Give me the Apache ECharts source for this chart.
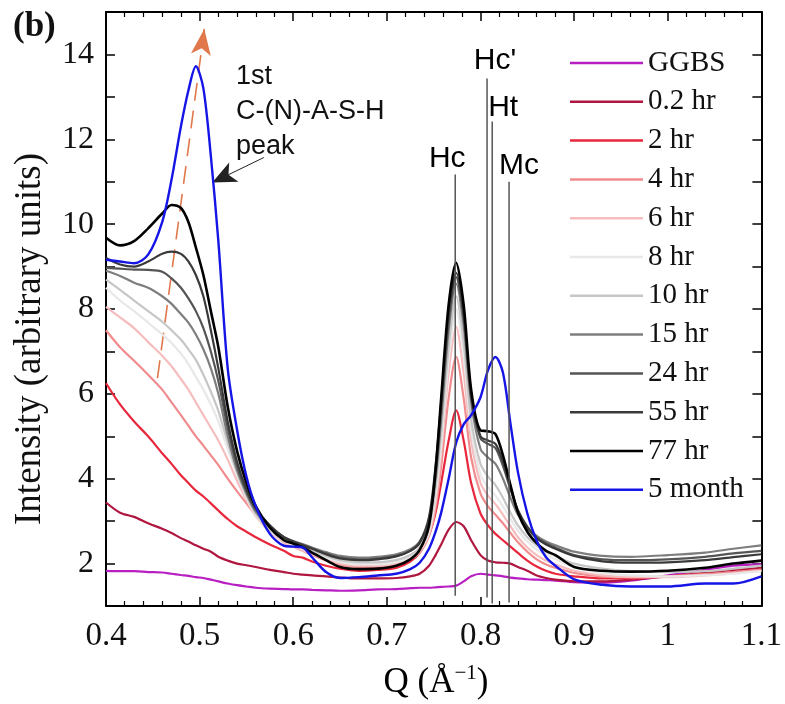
<!DOCTYPE html>
<html>
<head>
<meta charset="utf-8">
<script src="https://cdn.jsdelivr.net/npm/echarts@6/dist/echarts.min.js"></script>
<style>
html,body{margin:0;padding:0;background:#fff;}
#chart{width:785px;height:704px;}
</style>
</head>
<body>
<div id="chart"></div>
<script>
// ---- data ----
const Q = [0.40,0.415,0.43,0.445,0.46,0.47,0.48,0.488,0.496,0.504,0.512,0.52,0.53,0.54,0.55,0.56,0.575,0.59,0.60,0.61,0.62,0.635,0.65,0.67,0.69,0.71,0.725,0.735,0.745,0.752,0.758,0.766,0.774,0.782,0.79,0.80,0.808,0.816,0.824,0.832,0.84,0.85,0.86,0.87,0.88,0.90,0.93,0.96,1.00,1.04,1.07,1.10];

const GGBS = [1.83,1.82,1.82,1.80,1.79,1.76,1.73,1.71,1.68,1.66,1.62,1.58,1.53,1.49,1.46,1.43,1.41,1.40,1.39,1.39,1.38,1.37,1.36,1.37,1.39,1.40,1.42,1.43,1.43,1.44,1.45,1.46,1.48,1.58,1.70,1.76,1.74,1.72,1.70,1.67,1.65,1.63,1.62,1.61,1.60,1.56,1.55,1.60,1.72,1.85,1.95,1.98];
const hr0_2 = [3.44,3.20,3.10,2.95,2.82,2.72,2.60,2.52,2.43,2.35,2.28,2.16,2.07,2.00,1.96,1.92,1.85,1.80,1.76,1.74,1.72,1.70,1.67,1.65,1.65,1.66,1.70,1.76,1.95,2.20,2.45,2.80,2.98,2.88,2.55,2.20,2.07,2.03,2.02,2.00,1.92,1.83,1.72,1.66,1.62,1.58,1.58,1.62,1.70,1.78,1.85,1.90];
const hr2 = [6.25,5.75,5.35,5.00,4.60,4.35,4.08,3.90,3.72,3.58,3.42,3.25,3.05,2.88,2.75,2.62,2.45,2.30,2.18,2.14,2.05,1.95,1.88,1.83,1.85,1.90,2.05,2.25,2.68,3.20,3.90,4.90,5.61,4.90,3.90,3.18,2.90,2.70,2.55,2.40,2.25,2.07,1.93,1.83,1.76,1.70,1.65,1.65,1.70,1.75,1.80,1.85];
const hr4 = [7.50,7.10,6.78,6.45,6.10,5.80,5.50,5.25,5.00,4.78,4.55,4.32,4.00,3.70,3.42,3.15,2.80,2.50,2.40,2.30,2.20,2.07,1.97,1.92,1.92,1.97,2.10,2.25,2.65,3.30,4.30,5.90,6.87,5.90,4.50,3.65,3.35,3.15,2.95,2.72,2.50,2.28,2.10,1.98,1.90,1.78,1.70,1.68,1.70,1.75,1.80,1.86];
const hr6 = [8.05,7.80,7.55,7.22,6.90,6.65,6.35,6.10,5.80,5.50,5.20,4.90,4.45,3.95,3.50,3.12,2.75,2.50,2.40,2.30,2.22,2.10,2.00,1.95,1.95,2.00,2.12,2.28,2.70,3.45,4.60,6.50,7.58,6.50,4.90,3.90,3.60,3.40,3.15,2.88,2.62,2.38,2.20,2.07,1.98,1.83,1.72,1.68,1.68,1.72,1.77,1.83];
const hr8 = [8.50,8.20,7.95,7.68,7.40,7.20,6.95,6.70,6.40,6.10,5.75,5.35,4.70,4.10,3.55,3.15,2.78,2.54,2.44,2.35,2.26,2.14,2.04,1.98,1.98,2.03,2.15,2.32,2.75,3.60,4.80,6.80,8.00,6.90,5.15,4.10,3.80,3.60,3.35,3.05,2.78,2.52,2.33,2.20,2.10,1.92,1.78,1.72,1.70,1.72,1.76,1.82];
const hr10 = [8.69,8.45,8.20,7.95,7.70,7.50,7.28,7.05,6.80,6.45,6.05,5.60,4.85,4.15,3.60,3.18,2.80,2.56,2.46,2.38,2.30,2.18,2.08,2.03,2.03,2.08,2.20,2.38,2.85,3.80,5.10,7.10,8.30,7.20,5.40,4.35,4.05,3.85,3.55,3.20,2.90,2.62,2.42,2.28,2.18,2.00,1.88,1.82,1.80,1.82,1.88,1.95];
const hr15 = [8.90,8.78,8.62,8.50,8.30,8.12,7.88,7.68,7.40,7.05,6.60,6.00,5.00,4.20,3.65,3.22,2.85,2.62,2.53,2.46,2.38,2.27,2.18,2.14,2.16,2.22,2.34,2.52,3.00,4.00,5.40,7.50,8.60,7.60,5.80,4.70,4.50,4.35,4.00,3.55,3.15,2.85,2.65,2.52,2.43,2.28,2.18,2.16,2.20,2.26,2.35,2.43];
const hr24 = [8.97,8.95,8.93,8.92,8.88,8.72,8.50,8.25,7.95,7.55,7.00,6.30,5.20,4.30,3.70,3.27,2.88,2.62,2.52,2.44,2.36,2.24,2.14,2.10,2.12,2.18,2.30,2.48,3.00,4.10,5.60,7.70,8.75,7.80,5.90,4.95,4.82,4.72,4.30,3.75,3.25,2.87,2.62,2.48,2.38,2.20,2.10,2.08,2.10,2.16,2.24,2.30];
const hr55 = [9.20,9.05,9.00,9.12,9.30,9.35,9.30,9.12,8.80,8.30,7.50,6.60,5.35,4.40,3.75,3.30,2.90,2.62,2.52,2.43,2.35,2.22,2.12,2.08,2.10,2.17,2.30,2.50,3.10,4.30,5.80,7.90,8.85,7.90,6.00,5.00,4.90,4.82,4.40,3.80,3.25,2.85,2.60,2.45,2.35,2.18,2.05,2.02,2.03,2.08,2.15,2.22];
const hr77 = [9.68,9.50,9.60,9.90,10.25,10.45,10.38,10.05,9.45,8.80,7.95,7.10,5.70,4.65,3.90,3.35,2.85,2.55,2.47,2.38,2.26,2.08,1.92,1.87,1.88,1.95,2.10,2.32,2.90,4.20,5.90,8.10,9.09,8.10,6.10,5.14,5.12,5.05,4.55,3.85,3.20,2.75,2.48,2.30,2.20,1.92,1.83,1.81,1.83,1.90,2.00,2.07];
const month5 = [9.16,9.12,9.08,9.28,10.05,11.05,12.30,13.15,13.72,13.20,11.60,9.60,6.60,5.15,4.05,3.35,2.70,2.42,2.40,2.38,2.15,1.80,1.66,1.68,1.72,1.76,1.87,2.02,2.35,2.75,3.20,4.00,4.85,5.28,5.50,5.92,6.56,6.87,6.50,5.30,4.15,3.18,2.54,2.15,1.95,1.63,1.50,1.46,1.46,1.53,1.53,1.70];

const seriesNames = ['GGBS','0.2 hr','2 hr','4 hr','6 hr','8 hr','10 hr','15 hr','24 hr','55 hr','77 hr','5 month'];
const seriesValues = [GGBS,hr0_2,hr2,hr4,hr6,hr8,hr10,hr15,hr24,hr55,hr77,month5];

// peak reference lines
const peakNames = ['Hc', "Hc'", 'Ht', 'Mc'];
const peakQ = [0.773, 0.807, 0.8125, 0.8305];
const peakTop = [11.17, 13.43, 12.42, 11.0];
const peakBottom = [1.24, 1.2, 1.06, 1.08];

// arrows [Q, intensity]
const trendArrow = [[0.455, 6.37], [0.505, 14.6]];
const pointerArrow = [[0.5686, 11.57], [0.5135, 10.98]];

const yTicks = [2, 4, 6, 8, 10, 12, 14];

// ---- styles ----
const COLORS = ['#b81fc2','#b0163f','#e8273d','#f08b8e','#f6bdbf','#e8e8e8','#c6c6c6','#7e7e7e','#555555','#3a3a3a','#000000','#1515e6'];
const WIDTHS = [2.2,2.2,2.2,2.2,2.2,2.2,2.2,2.2,2.2,2.2,2.6,2.4];
const SERIF = 'Liberation Serif';
const SANS = 'Liberation Sans';
const LABEL_OFFSETS = [[-8, 4], [8, 2], [11, 6], [10, 4]];

const chart = echarts.init(document.getElementById('chart'), null, {renderer: 'canvas'});

const series = seriesNames.map((name, k) => ({
  name: name,
  type: 'line',
  data: Q.map((q, i) => [q, seriesValues[k][i]]),
  symbol: 'none',
  smooth: 0.3,
  lineStyle: {color: COLORS[k], width: WIDTHS[k]},
  itemStyle: {color: COLORS[k]},
  z: 2 + k,
  silent: true
}));

peakNames.forEach((n, i) => {
  series.push({
    name: 'peak-' + n,
    type: 'line',
    data: [[peakQ[i], peakBottom[i]], [peakQ[i], peakTop[i]]],
    symbol: 'none',
    lineStyle: {color: '#555', width: 1.5},
    z: 20,
    silent: true
  });
});

series.push({
  name: 'peakLabels',
  type: 'scatter',
  data: peakNames.map((n, i) => ({
    value: [peakQ[i], peakTop[i]],
    label: {show: true, position: 'top', distance: 4, formatter: n, offset: LABEL_OFFSETS[i],
            fontFamily: SANS, fontSize: 30, color: '#000', opacity: 1}
  })),
  symbolSize: 2,
  itemStyle: {color: '#000', opacity: 0},
  z: 21,
  silent: true,
  markLine: {
    silent: true,
    animation: false,
    label: {show: false},
    data: [
      [{coord: trendArrow[0], symbol: 'none',
        lineStyle: {color: '#e0784c', width: 1.6, type: [18, 10]}},
       {coord: trendArrow[1], symbol: 'arrow', symbolSize: [15, 26]}],
      [{coord: pointerArrow[0], symbol: 'none',
        lineStyle: {color: '#222', width: 1, type: 'solid'}},
       {coord: pointerArrow[1], symbol: 'arrow', symbolSize: [16, 24]}]
    ]
  }
});

const option = {
  animation: false,
  backgroundColor: '#fff',
  grid: {left: 106, right: 19, top: 12, bottom: 98, containLabel: false},
  legend: {
    data: seriesNames,
    orient: 'vertical',
    left: 565,
    top: 43,
    icon: 'rect',
    itemWidth: 73,
    itemHeight: 2.5,
    itemGap: 8.8,
    selectedMode: false,
    textStyle: {fontFamily: SERIF, fontSize: 29, color: '#111', lineHeight: 30}
  },
  xAxis: [{
    type: 'value', min: 0.4, max: 1.1, interval: 0.1, position: 'bottom',
    axisLine: {show: true, lineStyle: {color: '#000', width: 2}},
    axisTick: {show: true, inside: true, length: 9, lineStyle: {color: '#000', width: 1.5}},
    minorTick: {show: true, splitNumber: 5, length: 5, lineStyle: {color: '#000', width: 1.2}},
    splitLine: {show: false},
    axisLabel: {fontFamily: SERIF, fontSize: 33, color: '#111', margin: 14,
                formatter: v => String(Math.round(v * 10) / 10)}
  }, {
    type: 'value', min: 0.4, max: 1.1, interval: 0.1, position: 'top',
    axisLine: {show: true, lineStyle: {color: '#000', width: 2}},
    axisTick: {show: true, inside: true, length: 9, lineStyle: {color: '#000', width: 1.5}},
    minorTick: {show: true, splitNumber: 5, length: 5, lineStyle: {color: '#000', width: 1.2}},
    splitLine: {show: false},
    axisLabel: {show: false}
  }],
  yAxis: [{
    type: 'value', min: 1, max: 15, interval: 1, position: 'left',
    axisLine: {show: true, lineStyle: {color: '#000', width: 2}},
    axisTick: {show: true, inside: true, length: 9, lineStyle: {color: '#000', width: 1.5}},
    splitLine: {show: false},
    axisLabel: {fontFamily: SERIF, fontSize: 32, color: '#111', margin: 12,
                formatter: v => (yTicks.indexOf(v) >= 0 ? String(v) : '')}
  }, {
    type: 'value', min: 1, max: 15, interval: 1, position: 'right',
    axisLine: {show: true, lineStyle: {color: '#000', width: 2}},
    axisTick: {show: true, inside: true, length: 9, lineStyle: {color: '#000', width: 1.5}},
    splitLine: {show: false},
    axisLabel: {show: false}
  }],
  graphic: [
    {type: 'text', left: 13, top: 9, z: 50,
     style: {text: '(b)', font: 'bold 35px "Liberation Serif"', fill: '#111'}},
    {type: 'text', x: 30, y: 339, rotation: Math.PI / 2, z: 50,
     style: {text: 'Intensity (arbitrary units)', font: '37px "Liberation Serif"', fill: '#111',
             align: 'center', verticalAlign: 'middle'}},
    {type: 'text', x: 436, y: 683, z: 50,
     style: {text: '{a|Q (Å}{s|−1}{a|)}', align: 'center', verticalAlign: 'middle',
             rich: {a: {fontFamily: SERIF, fontSize: 35, color: '#111', lineHeight: 40},
                    s: {fontFamily: SERIF, fontSize: 21, color: '#111', verticalAlign: 'top', lineHeight: 40}}}},
    {type: 'text', left: 236, top: 59, z: 50,
     style: {text: '1st\nC-(N)-A-S-H\npeak', font: '27px "Liberation Sans"', fill: '#111', lineHeight: 35}}
  ],
  series: series
};
chart.setOption(option);
</script>
</body>
</html>
